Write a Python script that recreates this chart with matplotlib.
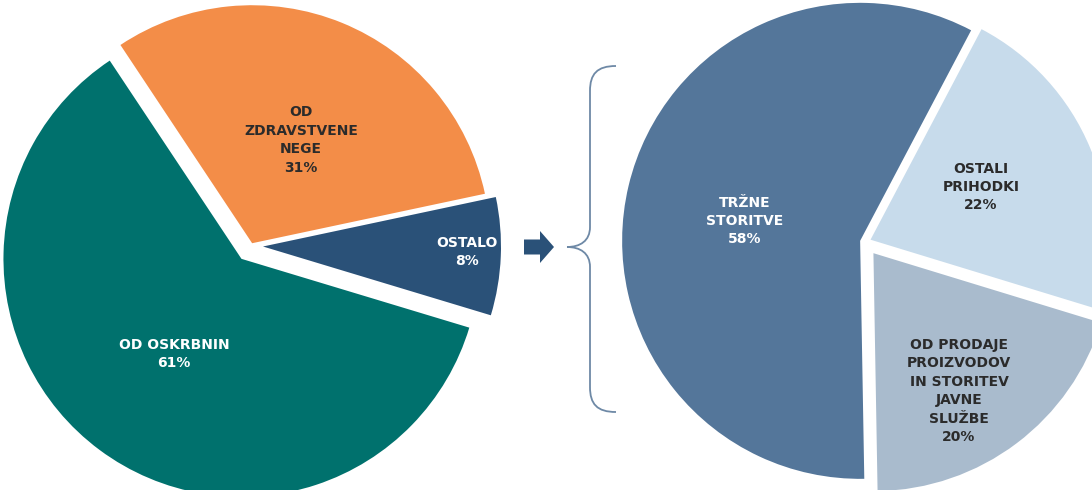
import numpy as np
import matplotlib.pyplot as plt
import matplotlib.patches as mpatches
from matplotlib.path import Path

# left pie: income structure
left_labels = ['OD\nZDRAVSTVENE\nNEGE', 'OD OSKRBNIN', 'OSTALO']
left_values = [31, 61, 8]
left_colors = ['#F38D48', '#00716D', '#2A5178']
left_text_colors = ['#2B2B2B', 'white', 'white']

# right pie: breakdown of "ostalo"
right_labels = ['OSTALI\nPRIHODKI', 'TRŽNE\nSTORITVE', 'OD PRODAJE\nPROIZVODOV\nIN STORITEV\nJAVNE\nSLUŽBE']
right_values = [22, 58, 20]
right_colors = ['#C7DBEB', '#54769A', '#A9BBCD']
right_text_colors = ['#2B2B2B', 'white', '#2B2B2B']

W, H = 1092, 490
fig = plt.figure(figsize=(W / 100, H / 100), dpi=100)
ax = fig.add_axes([0, 0, 1, 1])

# pixel coords, y measured from the top of the picture
left_center = (251, H - 246)
right_center = (865, H - 242)
R = 238

# explode is in data units (pixels here)
ax.pie(left_values, colors=left_colors, startangle=12, counterclock=True,
       explode=[3, 16, 12], center=left_center, radius=R,
       frame=True, wedgeprops=dict(linewidth=0))
ax.pie(right_values, colors=right_colors, startangle=-17, counterclock=True,
       explode=[6, 5, 14], center=right_center, radius=R,
       frame=True, wedgeprops=dict(linewidth=0))

# label placement (x, y from top)
left_pos = [(301, 140), (174, 354), (467, 252)]
right_pos = [(981, 187), (745, 221), (959, 391)]


def pct(v):
    return '%d%%' % v


for lab, v, c, (x, y) in zip(left_labels + right_labels, left_values + right_values,
                             left_text_colors + right_text_colors, left_pos + right_pos):
    ax.text(x, H - y, lab + '\n' + pct(v), ha='center', va='center', color=c,
            fontsize=10, fontweight='bold', family='DejaVu Sans', linespacing=1.4)

# arrow between the pies
ax.add_patch(mpatches.FancyArrow(524, H - 247, 30, 0, width=15, head_width=32,
                                 head_length=14, length_includes_head=True,
                                 color='#2A5178', linewidth=0))

# curly brace
bx, tip = 590, 567
top, mid, bot = H - 66, H - 247, H - 412
verts = [(616, top), (597, top), (bx, top - 8), (bx, top - 25),
         (bx, mid + 20),
         (bx, mid + 6), (580, mid), (tip, mid),
         (580, mid), (bx, mid - 6), (bx, mid - 20),
         (bx, bot + 25),
         (bx, bot + 8), (597, bot), (616, bot)]
codes = [Path.MOVETO, Path.CURVE4, Path.CURVE4, Path.CURVE4,
         Path.LINETO,
         Path.CURVE4, Path.CURVE4, Path.CURVE4,
         Path.CURVE4, Path.CURVE4, Path.CURVE4,
         Path.LINETO,
         Path.CURVE4, Path.CURVE4, Path.CURVE4]
ax.add_patch(mpatches.PathPatch(Path(verts, codes), fill=False,
                                edgecolor='#6E89A6', linewidth=1.3))

ax.set_xlim(0, W)
ax.set_ylim(0, H)
ax.set_aspect('auto')
ax.axis('off')

fig.savefig('out.png', dpi=100)
